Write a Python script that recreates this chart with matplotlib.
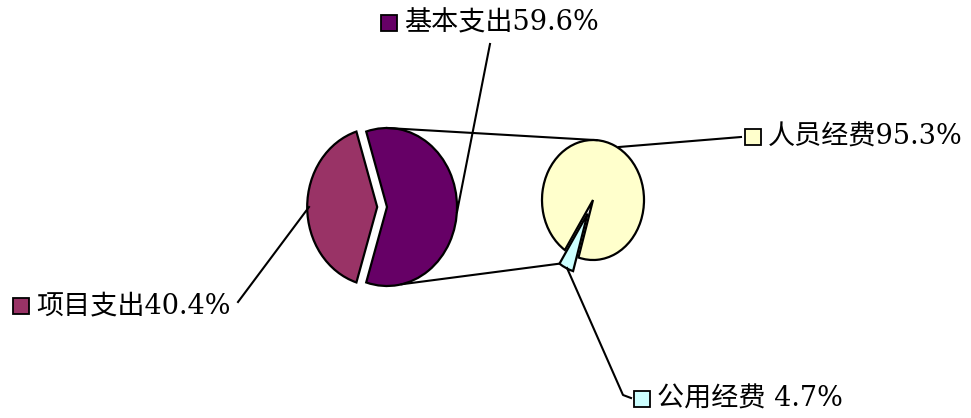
import matplotlib.pyplot as plt
import numpy as np
from matplotlib.transforms import Affine2D

plt.rcParams['font.family'] = ['DejaVu Serif', 'Noto Sans CJK SC']

# data
main_labels = ['基本支出', '项目支出']
main_values = [59.6, 40.4]
main_colors = ['#660066', '#993366']
sub_labels = ['人员经费', '公用经费']
sub_values = [95.3, 4.7]
sub_colors = ['#FFFFCC', '#CCFFFF']

fig = plt.figure(figsize=(9.71, 4.18), dpi=100)
ax = fig.add_axes([0, 0, 1, 1])

# pie centres and radii in pixel units (slightly elliptic like the original)
lc, lr = (387, 207), (70, 79)
rc, rr = (593, 200), (51, 60)


def ellipse_tf(c, r):
    return Affine2D().scale(r[0], -r[1]).translate(c[0], c[1]) + ax.transData


def to_px(c, r, x, y):
    return c[0] + r[0] * x, c[1] - r[1] * y


def ang(c, r, deg, shift=(0, 0)):
    t = np.deg2rad(deg)
    return to_px(c, r, shift[0] + np.cos(t), shift[1] + np.sin(t))


# left pie, 项目支出 pulled out to the left
main_start = 180 - 360 * (main_values[0] + main_values[1] / 2) / 100
wedges, _ = ax.pie(main_values, colors=main_colors, startangle=main_start,
                   explode=[0, 0.14],
                   wedgeprops=dict(edgecolor='black', linewidth=1.6))
for w in wedges:
    w.set_transform(ellipse_tf(lc, lr))

# right pie, 公用经费 pulled out down-left
sub_mid = 245
sub_start = sub_mid - 360 * (sub_values[0] + sub_values[1] / 2) / 100
sub_explode = 0.25
wedges2, _ = ax.pie(sub_values, colors=sub_colors, startangle=sub_start,
                    explode=[0, sub_explode],
                    wedgeprops=dict(edgecolor='black', linewidth=1.6))
for w in wedges2:
    w.set_transform(ellipse_tf(rc, rr))

# connector lines between the two pies
m = np.deg2rad(sub_mid)
shift = (sub_explode * np.cos(m), sub_explode * np.sin(m))
cyan_edge = sub_start + 360 * sub_values[0] / 100
p1 = ang(lc, lr, 90)
p2 = ang(rc, rr, 86)
p3 = ang(lc, lr, 282)
p4 = ang(rc, rr, cyan_edge, shift)
ax.plot([p1[0], p2[0]], [p1[1], p2[1]], color='black', lw=1.5)
ax.plot([p3[0], p4[0]], [p3[1], p4[1]], color='black', lw=1.5)

# labels: marker position and leader line (pixel layout)
labels = main_labels + sub_labels
values = main_values + sub_values
colors = main_colors + sub_colors
marker_pos = [(389, 23), (21, 306), (753, 137), (642, 399)]
leaders = [
    [(490, 44), (457, 212)],
    [(238, 302), (309, 207)],
    [(619, 147), (741, 137)],
    [(567, 268), (623, 395), (631, 398)],
]

for name, v, col, (mx, my), ld in zip(labels, values, colors, marker_pos, leaders):
    xs, ys = zip(*ld)
    ax.plot(xs, ys, color='black', lw=1.5)
    ax.plot(mx, my, marker='s', markersize=12, markerfacecolor=col,
            markeredgecolor='black', markeredgewidth=1.3)
    ax.text(mx + 15, my, f'{name}{v:4.1f}%', fontsize=19.5,
            va='center', ha='left', color='black')

ax.set_xlim(0, 971)
ax.set_ylim(418, 0)
ax.set_aspect('auto')
ax.axis('off')

fig.savefig('out.png', dpi=100)
